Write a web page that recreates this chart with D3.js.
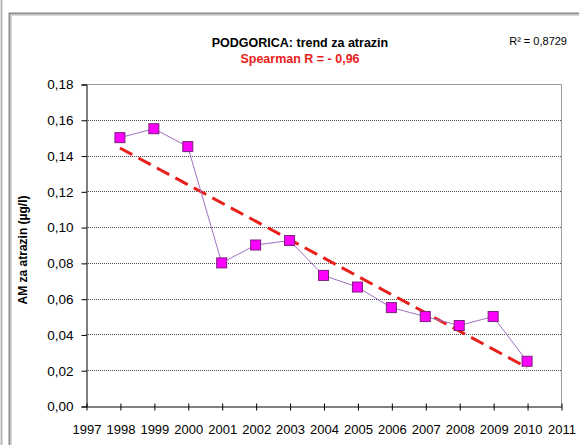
<!DOCTYPE html>
<html>
<head>
<meta charset="utf-8">
<script src="https://cdn.jsdelivr.net/npm/d3@7"></script>
<style>
  html, body { margin: 0; padding: 0; background: #fff; }
  svg { display: block; font-family: "Liberation Sans", Arial, sans-serif; }
</style>
</head>
<body>
<svg id="chart" width="579" height="445"></svg>
<script>
// Annual mean atrazine concentration, Podgorica
const years = [1998, 1999, 2000, 2001, 2002, 2003, 2004, 2005, 2006, 2007, 2008, 2009, 2010];
const values = [0.150, 0.155, 0.145, 0.080, 0.090, 0.0925, 0.073, 0.0665, 0.055, 0.050, 0.045, 0.050, 0.025];
// Linear trend end points
const trendYears = [1998, 2010];
const trendValues = [0.1442, 0.0215];
const xTicks = [1997, 1998, 1999, 2000, 2001, 2002, 2003, 2004, 2005, 2006, 2007, 2008, 2009, 2010, 2011];
const yTicks = [0, 0.02, 0.04, 0.06, 0.08, 0.10, 0.12, 0.14, 0.16, 0.18];

const svg = d3.select("#chart");
const fmt = d => d3.format(".2f")(d).replace(".", ",");

// outer frame
svg.append("line").attr("x1", 1.5).attr("x2", 1.5).attr("y1", 0).attr("y2", 445)
  .attr("stroke", "#b8b8b8").attr("stroke-width", 2);
svg.append("path").attr("d", "M9.5,445V13.5H579")
  .attr("fill", "none").attr("stroke", "#8c8c8c").attr("stroke-width", 2);
svg.append("path").attr("d", "M11.5,445V15.5H579")
  .attr("fill", "none").attr("stroke", "#d6d6d6").attr("stroke-width", 1);

const x = d3.scaleLinear().domain([1997, 2011]).range([86, 561]);
const y = d3.scaleLinear().domain([0, 0.18]).range([406, 84]);

// gridlines
svg.append("g").selectAll("line").data(yTicks.filter(d => d > 0 && d < 0.18)).join("line")
  .attr("x1", x(1997)).attr("x2", x(2011))
  .attr("y1", d => Math.round(y(d)) + 0.5).attr("y2", d => Math.round(y(d)) + 0.5)
  .attr("stroke", "#4a4a4a").attr("stroke-width", 1).attr("stroke-dasharray", "1,1");

// plot border top / right
svg.append("path")
  .attr("d", `M${x(1997)},${Math.round(y(0.18)) + 0.5}H${x(2011) + 0.5}V${y(0)}`)
  .attr("fill", "none").attr("stroke", "#9a9a9a").attr("stroke-width", 1);

// y axis
const yAxis = d3.axisLeft(y).tickValues(yTicks).tickFormat(fmt).tickSize(5).tickPadding(8);
const gy = svg.append("g").attr("transform", `translate(${x(1997) + 0.5},0.5)`).call(yAxis);
gy.select(".domain").attr("stroke", "#000");
gy.selectAll(".tick line").attr("stroke", "#000");
gy.selectAll("text").attr("font-size", 13.5).attr("fill", "#000")
  .attr("font-family", "Liberation Sans, Arial, sans-serif");

// x axis with cross ticks
const xAxis = d3.axisBottom(x).tickValues(xTicks).tickFormat(d3.format("d"))
  .tickSizeInner(4).tickSizeOuter(0).tickPadding(14);
const gx = svg.append("g").attr("transform", `translate(0.5,${Math.round(y(0)) + 0.5})`).call(xAxis);
gx.select(".domain").attr("stroke", "#000");
gx.selectAll(".tick line").attr("stroke", "#000").attr("y1", -3).attr("y2", 4);
gx.selectAll("text").attr("font-size", 13).attr("fill", "#000")
  .attr("font-family", "Liberation Sans, Arial, sans-serif");

// trend line
svg.append("path")
  .datum(trendYears.map((yr, i) => [yr, trendValues[i]]))
  .attr("d", d3.line().x(d => x(d[0])).y(d => y(d[1])))
  .attr("fill", "none").attr("stroke", "#e8201c").attr("stroke-width", 3)
  .attr("stroke-dasharray", "14,7");

// data series
const pts = years.map((yr, i) => [yr, values[i]]);
svg.append("path").datum(pts)
  .attr("d", d3.line().x(d => x(d[0])).y(d => y(d[1])))
  .attr("fill", "none").attr("stroke", "#a070c0").attr("stroke-width", 1);
svg.append("g").selectAll("rect").data(pts).join("rect")
  .attr("x", d => x(d[0]) - 5).attr("y", d => y(d[1]) - 5)
  .attr("width", 10).attr("height", 10)
  .attr("fill", "#ff00ff").attr("stroke", "#7a1f7a").attr("stroke-width", 1);

// titles
svg.append("text").attr("x", 300).attr("y", 47).attr("text-anchor", "middle")
  .attr("font-size", 12.5).attr("font-weight", "bold").attr("fill", "#000")
  .text("PODGORICA: trend za atrazin");
svg.append("text").attr("x", 300).attr("y", 63).attr("text-anchor", "middle")
  .attr("font-size", 12.5).attr("font-weight", "bold").attr("fill", "#e8201c")
  .text("Spearman R = - 0,96");
svg.append("text").attr("x", 567).attr("y", 45).attr("text-anchor", "end")
  .attr("font-size", 11).attr("fill", "#000")
  .text("R² = 0,8729");

// y axis title
svg.append("text").attr("transform", `translate(27,${(y(0) + y(0.18)) / 2 + 5}) rotate(-90)`)
  .attr("text-anchor", "middle").attr("font-size", 12).attr("font-weight", "bold").attr("fill", "#000")
  .text("AM za atrazin (µg/l)");
</script>
</body>
</html>
